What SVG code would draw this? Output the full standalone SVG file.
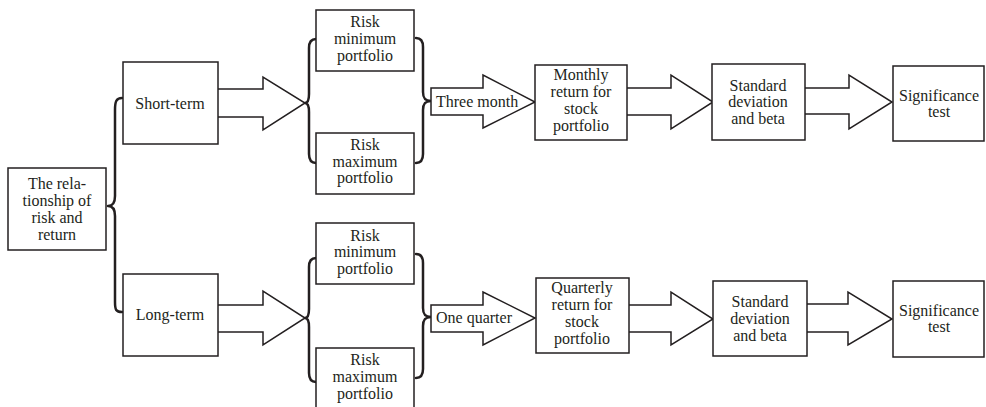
<svg xmlns="http://www.w3.org/2000/svg" width="986" height="407" viewBox="0 0 986 407">
<style>
.box{fill:#fff;stroke:#231f20;stroke-width:1.5}
.arr{fill:#fff;stroke:#231f20;stroke-width:1.5;stroke-linejoin:miter}
.brace{fill:none;stroke:#231f20;stroke-width:2.5;stroke-linecap:round;stroke-linejoin:round}
text{font-family:"Liberation Serif","Times New Roman",serif;font-size:16px;fill:#231f20;text-anchor:middle}
.l{text-anchor:start}
</style>
<rect width="986" height="407" fill="#fff"/>
<g id="connectors">
<path class="brace" d="M122,98 C116,98 115,102 115,110 L115,196 C115,203 112,206 108,206 C112,206 115,209 115,216 L115,302 C115,310 116,312 122,312"/>
<path class="arr" d="M218,89 L263,89 L263,77 L305,103 L263,130 L263,117 L218,117"/>
<path class="arr" d="M218,305 L263,305 L263,291 L305,318 L263,345 L263,332 L218,332"/>
<path class="brace" d="M316,39 C311,39 309,42 309,48 L309,94 C309,100 308,103 305,103 C308,103 309,106 309,112 L309,154 C309,160 311,163 316,163"/>
<path class="brace" d="M416,38 C421,38 423,41 423,47 L423,92 C423,98 425,101 431,101 C425,101 423,104 423,110 L423,154 C423,160 421,163 416,163"/>
<path class="brace" d="M316,258 C311,258 309,261 309,267 L309,309 C309,315 308,318 305,318 C308,318 309,321 309,327 L309,373 C309,379 311,382 316,382"/>
<path class="brace" d="M416,254 C421,254 423,257 423,263 L423,308 C423,314 425,317 431,317 C425,317 423,320 423,326 L423,369 C423,375 421,378 416,378"/>
<g id="arrow-three-month">
<path class="arr" d="M431,88 L483,88 L483,75 L535,102 L483,128 L483,115 L431,115 Z"/>
<text class="l" x="436" y="107">Three month</text>
</g>
<g id="arrow-one-quarter">
<path class="arr" d="M431,305 L483,305 L483,292 L535,318 L483,345 L483,332 L431,332 Z"/>
<text class="l" x="436" y="323">One quarter</text>
</g>
<path class="arr" d="M627,88 L671,88 L671,75 L713,102 L671,129 L671,115 L627,115"/>
<path class="arr" d="M805,88 L849,88 L849,75 L892,102 L849,129 L849,114 L805,114"/>
<path class="arr" d="M629,305 L671,305 L671,292 L713,319 L671,345 L671,332 L629,332"/>
<path class="arr" d="M807,304 L848,304 L848,292 L892,319 L848,345 L848,332 L807,332"/>
</g>
<g id="relationship">
<rect class="box" x="8" y="168" width="98" height="82"/>
<text x="57" y="189">The rela-</text>
<text x="57" y="206">tionship of</text>
<text x="57" y="223">risk and</text>
<text x="57" y="240">return</text>
</g>
<g id="short-term">
<rect class="box" x="123" y="62" width="95" height="82"/>
<text x="170" y="109">Short-term</text>
</g>
<g id="long-term">
<rect class="box" x="123" y="274" width="95" height="82"/>
<text x="170" y="320">Long-term</text>
</g>
<g id="risk-min-1">
<rect class="box" x="316" y="10" width="98" height="61"/>
<text x="365" y="27">Risk</text>
<text x="365" y="44">minimum</text>
<text x="365" y="61">portfolio</text>
</g>
<g id="risk-max-1">
<rect class="box" x="316" y="133" width="98" height="61"/>
<text x="365" y="150">Risk</text>
<text x="365" y="167">maximum</text>
<text x="365" y="183">portfolio</text>
</g>
<g id="risk-min-2">
<rect class="box" x="316" y="223" width="98" height="61"/>
<text x="365" y="241">Risk</text>
<text x="365" y="257">minimum</text>
<text x="365" y="274">portfolio</text>
</g>
<g id="risk-max-2">
<rect class="box" x="316" y="348" width="98" height="70"/>
<text x="365" y="365">Risk</text>
<text x="365" y="382">maximum</text>
<text x="365" y="399">portfolio</text>
</g>
<g id="monthly">
<rect class="box" x="535" y="65" width="92" height="75"/>
<text x="581" y="80">Monthly</text>
<text x="581" y="97">return for</text>
<text x="581" y="114">stock</text>
<text x="581" y="131">portfolio</text>
</g>
<g id="quarterly">
<rect class="box" x="536" y="278" width="93" height="75"/>
<text x="582" y="293">Quarterly</text>
<text x="582" y="310">return for</text>
<text x="582" y="327">stock</text>
<text x="582" y="344">portfolio</text>
</g>
<g id="std-1">
<rect class="box" x="712" y="64" width="93" height="76"/>
<text x="758" y="91">Standard</text>
<text x="758" y="107">deviation</text>
<text x="758" y="124">and beta</text>
</g>
<g id="std-2">
<rect class="box" x="713" y="281" width="94" height="75"/>
<text x="760" y="307">Standard</text>
<text x="760" y="324">deviation</text>
<text x="760" y="341">and beta</text>
</g>
<g id="sig-1">
<rect class="box" x="893" y="66" width="91" height="75"/>
<text x="939" y="101">Significance</text>
<text x="939" y="117">test</text>
</g>
<g id="sig-2">
<rect class="box" x="893" y="281" width="91" height="76"/>
<text x="939" y="316">Significance</text>
<text x="939" y="332">test</text>
</g>
</svg>
